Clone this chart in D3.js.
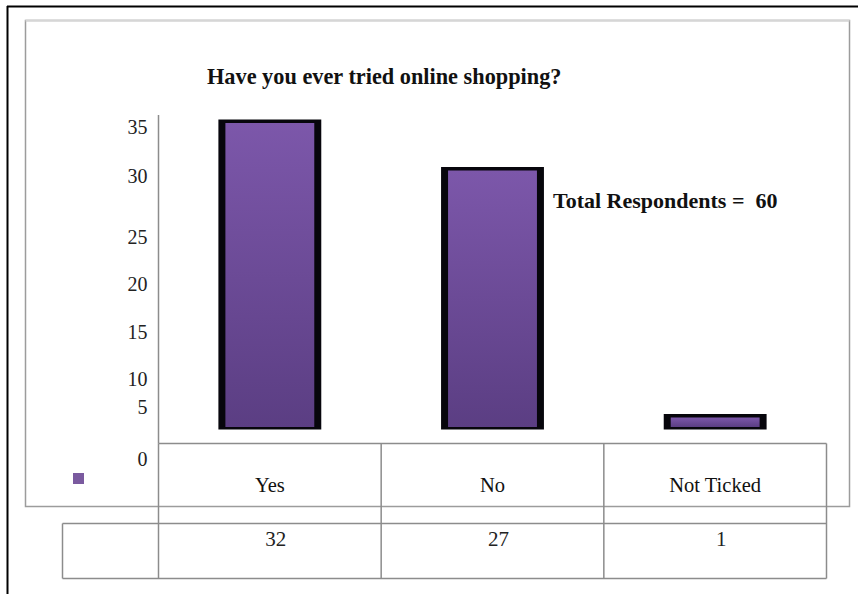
<!DOCTYPE html>
<html>
<head>
<meta charset="utf-8">
<script src="https://cdn.jsdelivr.net/npm/d3@7"></script>
<style>
  html, body { margin: 0; padding: 0; background: #fff; }
  svg { display: block; }
</style>
</head>
<body>
<script>
// Survey answers: "Have you ever tried online shopping?"
const categories = ["Yes", "No", "Not Ticked"];
const counts = [32, 27, 1];
const tickLabels = [0, 5, 10, 15, 20, 25, 30, 35];
const titleText = "Have you ever tried online shopping?";
const totalText = "Total Respondents =  60";

const W = 858, H = 594;
const svg = d3.select("body").append("svg").attr("width", W).attr("height", H);

// gradient for the bar fill
const defs = svg.append("defs");
const grad = defs.append("linearGradient").attr("id", "barFill")
  .attr("x1", 0).attr("y1", 0).attr("x2", 0).attr("y2", 1);
grad.append("stop").attr("offset", "0%").attr("stop-color", "#7c57aa");
grad.append("stop").attr("offset", "100%").attr("stop-color", "#5b3e83");

// outer page border (top and left only)
svg.append("line").attr("x1", 7).attr("x2", W).attr("y1", 6.5).attr("y2", 6.5)
  .attr("stroke", "#000").attr("stroke-width", 2);
svg.append("line").attr("x1", 7.5).attr("x2", 7.5).attr("y1", 6).attr("y2", H)
  .attr("stroke", "#000").attr("stroke-width", 2);

// chart frame
const frame = { x0: 25.5, y0: 20.5, x1: 849.5, y1: 506.5 };
svg.append("rect").attr("x", frame.x0).attr("y", frame.y0)
  .attr("width", frame.x1 - frame.x0).attr("height", frame.y1 - frame.y0)
  .attr("fill", "none").attr("stroke", "#9c9c9c").attr("stroke-width", 1.5);
svg.append("line").attr("x1", frame.x0).attr("x2", frame.x1)
  .attr("y1", frame.y0).attr("y2", frame.y0)
  .attr("stroke", "#d6d6d6").attr("stroke-width", 2);

// scales
const plotLeft = 158.5, plotRight = 826.5, plotTop = 115, axisY = 443.5;
const x = d3.scaleBand().domain(categories).range([plotLeft, plotRight])
  .paddingInner(0.538).paddingOuter(0.269);
const y = d3.scaleLinear().domain([0, 32]).range([427, 123]);

// label placement along the value axis
const yLabel = d3.scaleLinear()
  .domain([0, 5, 10, 25, 30, 35])
  .range([459, 407, 379, 237, 176, 127]);

const serif = "'Liberation Serif', 'Times New Roman', serif";

// title
svg.append("text").attr("x", 207).attr("y", 84)
  .attr("font-family", serif).attr("font-weight", "bold").attr("font-size", 22.3)
  .attr("fill", "#111").text(titleText);

// value axis line
svg.append("line").attr("x1", plotLeft).attr("x2", plotLeft)
  .attr("y1", plotTop).attr("y2", axisY)
  .attr("stroke", "#8c8c8c").attr("stroke-width", 1.5);

// value axis labels
const yAxis = svg.append("g").attr("transform", `translate(${plotLeft},0)`)
  .call(d3.axisLeft(yLabel).tickValues(tickLabels).tickSize(0).tickPadding(11));
yAxis.select(".domain").remove();
yAxis.attr("font-family", serif);
yAxis.selectAll("text").attr("font-family", serif).attr("font-size", 20).attr("fill", "#222");

// bars: black casing with purple fill
const bars = svg.append("g").selectAll("g").data(categories).join("g");
bars.append("rect")
  .attr("x", d => x(d))
  .attr("y", (d, i) => y(counts[i]) - 3.5)
  .attr("width", x.bandwidth())
  .attr("height", (d, i) => y(0) - y(counts[i]) + 6)
  .attr("fill", "#07060c");
bars.append("rect")
  .attr("x", d => x(d) + 7)
  .attr("y", (d, i) => y(counts[i]))
  .attr("width", x.bandwidth() - 14)
  .attr("height", (d, i) => y(0) - y(counts[i]))
  .attr("fill", "url(#barFill)");

// data table underneath
const step = x.step();
const colLeft = d => x(d) - (step - x.bandwidth()) / 2;
const tableLines = svg.append("g").attr("stroke", "#8c8c8c").attr("stroke-width", 1.5).attr("fill", "none");
const row1 = { top: axisY, bottom: 506.5 };
const row2 = { top: 523.5, bottom: 578.5 };
// horizontal rules
tableLines.append("line").attr("x1", plotLeft).attr("x2", plotRight).attr("y1", row1.top).attr("y2", row1.top);
tableLines.append("line").attr("x1", 62.5).attr("x2", plotRight).attr("y1", row2.top).attr("y2", row2.top);
tableLines.append("line").attr("x1", 62.5).attr("x2", plotRight).attr("y1", row2.bottom).attr("y2", row2.bottom);
tableLines.append("line").attr("x1", 62.5).attr("x2", 62.5).attr("y1", row2.top).attr("y2", row2.bottom);
// column dividers
const dividers = categories.map(colLeft).concat([plotRight]);
tableLines.selectAll("line.col").data(dividers).join("line").attr("class", "col")
  .attr("x1", d => d).attr("x2", d => d).attr("y1", row1.top).attr("y2", row2.bottom);

// category names
svg.append("g").selectAll("text").data(categories).join("text")
  .attr("x", d => x(d) + x.bandwidth() / 2)
  .attr("y", 492)
  .attr("text-anchor", "middle")
  .attr("font-family", serif).attr("font-size", 20.5).attr("fill", "#111")
  .text(d => d);

// counts
svg.append("g").selectAll("text").data(counts).join("text")
  .attr("x", (d, i) => x(categories[i]) + x.bandwidth() / 2 + 6)
  .attr("y", 546)
  .attr("text-anchor", "middle")
  .attr("font-family", serif).attr("font-size", 21).attr("fill", "#222")
  .text(d => d);

// legend key
svg.append("rect").attr("x", 73).attr("y", 473).attr("width", 11).attr("height", 11)
  .attr("fill", "#7a5a9f");

// annotation
svg.append("text").attr("x", 553).attr("y", 208)
  .style("white-space", "pre")
  .attr("font-family", serif).attr("font-weight", "bold").attr("font-size", 22)
  .attr("fill", "#111").text(totalText);
</script>
</body>
</html>
